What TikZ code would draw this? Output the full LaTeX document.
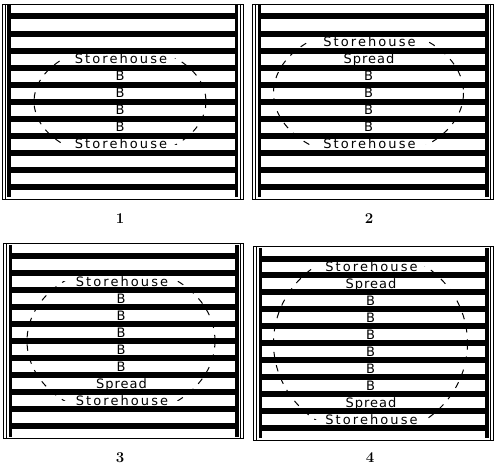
\documentclass[tikz,border=0pt]{standalone}
\usepackage{fontspec}
\newfontfamily\storefont[LetterSpace=16]{DejaVu Sans}
\newfontfamily\spreadfont[LetterSpace=8]{DejaVu Sans}
\newfontfamily\bfont{DejaVu Sans}
\newcommand\drawpanel[4]{% L T R B
  \pgfmathsetmacro\pp{(#4-#2-24.8)/10}
  \draw[frameline] (#1,#2) rectangle (#3,#4);
  \draw[frameline] ({#1+3},#2) -- ({#1+3},#4);
  \draw[frameline] ({#3-3},#2) -- ({#3-3},#4);
  \fill ({#1+5},{#2+1.5}) rectangle ({#1+8.5},{#4-2});
  \fill ({#3-8.5},{#2+1.5}) rectangle ({#3-5},{#4-2});
  \foreach \i in {0,...,10}{%
    \fill ({#1+5},{#2+9.5+\i*\pp}) rectangle ({#3-5},{#2+9.5+6+\i*\pp});
  }%
}
\newcommand\dashring[6]{% cx cy rx ry ytop ybot
  \begin{scope}
    \clip ({#1-#3-3},#5) rectangle ({#1+#3+3},#6);
    \draw[ringline] (#1,#2) ellipse [x radius=#3, y radius=#4];
  \end{scope}
}
\begin{document}
\begin{tikzpicture}[x=1pt,y=-1pt,
  frameline/.style={line width=0.8pt},
  ringline/.style={line width=1pt, dash pattern=on 6.5pt off 7pt},
  store/.style={anchor=base, inner sep=0pt, font=\storefont\fontsize{13}{13}\selectfont},
  spr/.style={anchor=base, inner sep=0pt, font=\spreadfont\fontsize{13}{13}\selectfont},
  bee/.style={anchor=base, inner sep=0pt, font=\bfont\fontsize{13}{13}\selectfont},
  num/.style={inner sep=0pt, font=\bfseries\fontsize{15}{15}\selectfont}]
\useasboundingbox (0,0) rectangle (500,468);
% panel frames
\drawpanel{2}{4}{243}{199}
\drawpanel{252.5}{4}{493.5}{199}
\drawpanel{3.5}{243.5}{243.5}{438.5}
\drawpanel{253.5}{246}{493.5}{440}
% dashed rings
\dashring{120}{101.5}{86}{56.8}{58.94}{144.04}
\dashring{368.5}{92.97}{95}{65.9}{41.9}{144.04}
\dashring{121}{340.99}{94}{75}{281.42}{400.56}
\dashring{370.5}{343.04}{97}{93.2}{266.9}{419.18}
% panel 1
\node[store] (a1) at (121,63.7) {Storehouse};
\node[bee] (a2) at (120,80.7) {B};
\node[bee] (a3) at (120,97.7) {B};
\node[bee] (a4) at (120,114.7) {B};
\node[bee] (a5) at (120,131.7) {B};
\node[store] (a6) at (121,148.8) {Storehouse};
% panel 2
\node[store] (b1) at (369.5,46.7) {Storehouse};
\node[spr] (b2) at (369,63.7) {Spread};
\node[bee] (b3) at (368.5,80.7) {B};
\node[bee] (b4) at (368.5,97.7) {B};
\node[bee] (b5) at (368.5,114.7) {B};
\node[bee] (b6) at (368.5,131.7) {B};
\node[store] (b7) at (369.5,148.8) {Storehouse};
% panel 3
\node[store] (c1) at (122,286.2) {Storehouse};
\node[bee] (c2) at (121,303.1) {B};
\node[bee] (c3) at (121,320.2) {B};
\node[bee] (c4) at (121,337.2) {B};
\node[bee] (c5) at (121,354.2) {B};
\node[bee] (c6) at (121,371.2) {B};
\node[spr] (c7) at (121.5,388.3) {Spread};
\node[store] (c8) at (122,405.3) {Storehouse};
% panel 4
\node[store] (d1) at (371.5,271.7) {Storehouse};
\node[spr] (d2) at (371,288.6) {Spread};
\node[bee] (d3) at (370.5,305.4) {B};
\node[bee] (d4) at (370.5,322.4) {B};
\node[bee] (d5) at (370.5,339.3) {B};
\node[bee] (d6) at (370.5,356.2) {B};
\node[bee] (d7) at (370.5,373.1) {B};
\node[bee] (d8) at (370.5,390) {B};
\node[spr] (d9) at (371,407.1) {Spread};
\node[store] (d10) at (371.5,424) {Storehouse};
% numbers
\node[num] (n1) at (120,219) {1};
\node[num] (n2) at (369,219) {2};
\node[num] (n3) at (120,458) {3};
\node[num] (n4) at (370,458) {4};
\end{tikzpicture}
\end{document}
